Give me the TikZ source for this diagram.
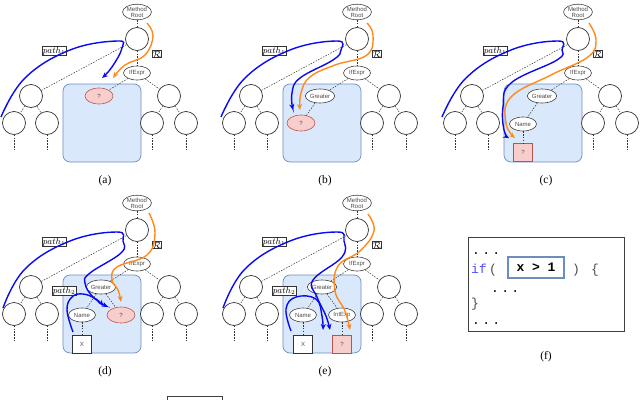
\documentclass[tikz,border=0pt]{standalone}
\usepackage{amsmath,amssymb}
\usepackage{fontspec}
\setmainfont{Liberation Serif}
\setsansfont{Liberation Sans}
\setmonofont{Liberation Mono}
\usepackage{xcolor}
\usepackage{tikz}
\usetikzlibrary{positioning,arrows.meta,shapes.geometric}

\definecolor{boxfill}{HTML}{DAE8FC}
\definecolor{boxline}{HTML}{6C8EBF}
\definecolor{holefill}{HTML}{F8CECC}
\definecolor{holeline}{HTML}{B85450}
\definecolor{pathblue}{HTML}{0A0AF0}
\definecolor{rorange}{HTML}{FF8A1C}
\definecolor{kwblue}{HTML}{4F4FFF}

\begin{document}
\begin{tikzpicture}[x=1pt, y=-1pt,
  tnode/.style={ellipse, draw=black!75, fill=white, line width=0.6pt, inner sep=0.2pt, minimum width=27pt, minimum height=14pt, align=center, font=\sffamily\fontsize{6}{6.2}\selectfont, text=black!70},
  blank/.style={circle, draw=black!80, fill=white, line width=0.7pt, minimum size=23pt, inner sep=0pt},
  hole/.style={tnode, fill=holefill, draw=holeline, minimum width=28pt, minimum height=16pt},
  holesq/.style={rectangle, draw=holeline, fill=holefill, line width=0.6pt, minimum width=19pt, minimum height=18pt, inner sep=0pt, font=\sffamily\fontsize{6}{6}\selectfont, text=black!70},
  leafsq/.style={holesq, draw=black!80, fill=white},
  region/.style={rectangle, rounded corners=7pt, draw=boxline, fill=boxfill, line width=0.7pt, minimum width=78pt, minimum height=78pt},
  link/.style={black!80, line width=0.5pt, dash pattern=on 1.5pt off 1.3pt},
  tag/.style={draw=black!80, fill=white, line width=0.5pt, inner sep=0.6pt, font=\fontsize{9}{9}\selectfont},
  blueflow/.style={-{Stealth[length=6pt,width=5pt]}, line width=1.4pt, pathblue},
  rflow/.style={blueflow, rorange},
  sublabel/.style={font=\fontsize{11.5}{12}\selectfont},
  codetxt/.style={font=\ttfamily\fontsize{13}{13}\selectfont, inner sep=0pt, anchor=base west},
]
\useasboundingbox (0,0) rectangle (640,399);

% common tree in panels (a)--(e)
\foreach \px/\py/\pn in {0/0/a, 220/0/b, 441/0/c, 0/191/d, 220/191/e} {
  \begin{scope}[shift={(\px,\py)}, name prefix=\pn-]
    \node[region] (box) at (102,123) {};
    \node[tnode] (root) at (137,12) {Method\\Root};
    \node[blank] (top) at (137,39) {};
    \node[tnode] (ifx) at (137,73) {IfExpr};
    \node[blank] (l) at (31,96) {};
    \node[blank] (ll) at (14,123) {};
    \node[blank] (lr) at (47,123) {};
    \node[blank] (r) at (169,96) {};
    \node[blank] (rl) at (152,123) {};
    \node[blank] (rr) at (186,123) {};
    \draw[link] (root) -- (top);
    \draw[link] (top) -- (ifx);
    \draw[link] (top) -- (l);
    \draw[link] (ifx) -- (r);
    \foreach \p/\c in {l/ll,l/lr,r/rl,r/rr} {\draw[link] (\p) -- (\c);}
    \foreach \c in {ll,lr,rl,rr} {\draw[link] (\c.south) -- ++(0,16);}
    \node[tag] (pone) at (54,51) {$path_1$};
    \node[tag] (rlab) at (157,54) {$\mathcal{R}$};
    \node[sublabel] (sub) at (105,181) {(\pn)};
  \end{scope}
}

% (a)
\begin{scope}[name prefix=a-]
\node[hole] (hole) at (99,96) {?};
\draw[link] (ifx) -- (hole);
\draw[blueflow] plot[smooth, tension=0.7] coordinates {(1,117) (25,78) (70,50) (117,41) (122,48) (112,67) (102,78)};
\draw[rflow] plot[smooth, tension=0.7] coordinates {(147,23) (153,36) (145,55) (125,65) (113,78)};
\end{scope}

% (b)
\begin{scope}[shift={(220,0)}, name prefix=b-]
\node[tnode] (gt) at (100,96) {Greater};
\node[hole] (hole) at (81,123) {?};
\draw[link] (ifx) -- (gt);
\draw[link] (gt) -- (hole);
\draw[blueflow] plot[smooth, tension=0.7] coordinates {(1,117) (25,78) (70,50) (117,41) (121,50) (113,60) (80,78) (72,93) (73,110)};
\draw[rflow] plot[smooth, tension=0.7] coordinates {(147,23) (153,35) (147,55) (115,65) (90,77) (81,93) (80,110)};
\end{scope}

% (c)
\begin{scope}[shift={(441,0)}, name prefix=c-]
\node[tnode] (gt) at (101,96) {Greater};
\node[tnode] (name) at (82,124) {Name};
\node[holesq] (hole) at (82,152) {?};
\draw[link] (ifx) -- (gt);
\draw[link] (gt) -- (name);
\draw[link] (name) -- (hole);
\draw[blueflow] plot[smooth, tension=0.7] coordinates {(1,117) (25,78) (70,50) (117,41) (121,50) (116,60) (70,83) (62,107) (63,130) (68,138)};
\draw[rflow] plot[smooth, tension=0.7] coordinates {(148,23) (155,40) (147,57) (110,75) (70,97) (65,123) (74,138)};
\end{scope}

% (d)
\begin{scope}[shift={(0,191)}, name prefix=d-]
\node[tnode] (gt) at (101,96) {Greater};
\node[tnode] (name) at (82,124) {Name};
\node[hole] (hole) at (121,124) {?};
\node[leafsq] (var) at (82,153) {X};
\draw[link] (ifx) -- (gt);
\draw[link] (gt) -- (name);
\draw[link] (gt) -- (hole);
\draw[link] (name) -- (var);
\node[tag] (ptwo) at (64,100) {$path_2$};
\draw[blueflow] plot[smooth, tension=0.7] coordinates {(3,117) (25,78) (70,50) (117,41) (123,50) (121,62) (90,82) (85,92) (93,106) (108,116)};
\draw[blueflow] plot[smooth, tension=0.7] coordinates {(73,141) (67,119) (72,106) (83,103) (96,108) (103,115)};
\draw[rflow] plot[smooth, tension=0.7] coordinates {(149,22) (155,42) (147,64) (117,76) (112,89) (118,99) (121,111)};
\end{scope}

% (e)
\begin{scope}[shift={(220,191)}, name prefix=e-]
\node[tnode] (gt) at (102,96) {Greater};
\node[tnode] (name) at (83,124) {Name};
\node[tnode] (intx) at (122,124) {IntExp};
\node[leafsq] (var) at (83,153) {X};
\node[holesq] (hole) at (122,153) {?};
\draw[link] (ifx) -- (gt);
\draw[link] (gt) -- (name);
\draw[link] (gt) -- (intx);
\draw[link] (name) -- (var);
\draw[link] (intx) -- (hole);
\node[tag] (ptwo) at (64,100) {$path_2$};
\draw[blueflow] plot[smooth, tension=0.7] coordinates {(3,117) (25,78) (70,50) (117,41) (124,50) (122,66) (93,89) (97,106) (106,125) (110,139)};
\draw[blueflow] plot[smooth, tension=0.7] coordinates {(71,140) (66,118) (76,106) (96,108) (102,125) (103,139)};
\draw[rflow] plot[smooth, tension=0.7] coordinates {(148,23) (154,40) (140,60) (118,75) (115,100) (125,120) (130,139)};
\end{scope}

% (f) source snippet
\node[draw=black!75, line width=0.8pt, minimum width=156pt, minimum height=94pt] (snippet) at (546,284) {};
\node[codetxt] (dotsa) at (472,254) {.\hspace{2.3pt}.\hspace{2.3pt}.};
\node[codetxt, text=kwblue] (kwif) at (471,273) {if};
\node[codetxt, text=black!70] (lpar) at (489,273) {(};
\node[draw=boxline, line width=1.2pt, minimum width=56pt, minimum height=21pt, inner sep=0pt, font=\ttfamily\bfseries\fontsize{13}{13}\selectfont] (cond) at (536,267.5) {x > 1};
\node[codetxt, text=black!70] (rpar) at (572,273) {)};
\node[codetxt, text=black!70] (lbrace) at (591,273) {\{};
\node[codetxt] (dotsb) at (491,292) {.\hspace{2.3pt}.\hspace{2.3pt}.};
\node[codetxt, text=black!70] (rbrace) at (471,307) {\}};
\node[codetxt] (dotsc) at (472,324) {.\hspace{2.3pt}.\hspace{2.3pt}.};
\node[sublabel] (subf) at (546,357) {(f)};

% partly visible box at the bottom edge
\node[draw=black!75, line width=0.6pt, minimum width=55pt, minimum height=24pt, anchor=north west] (legend) at (167,396) {};
\end{tikzpicture}
\end{document}
